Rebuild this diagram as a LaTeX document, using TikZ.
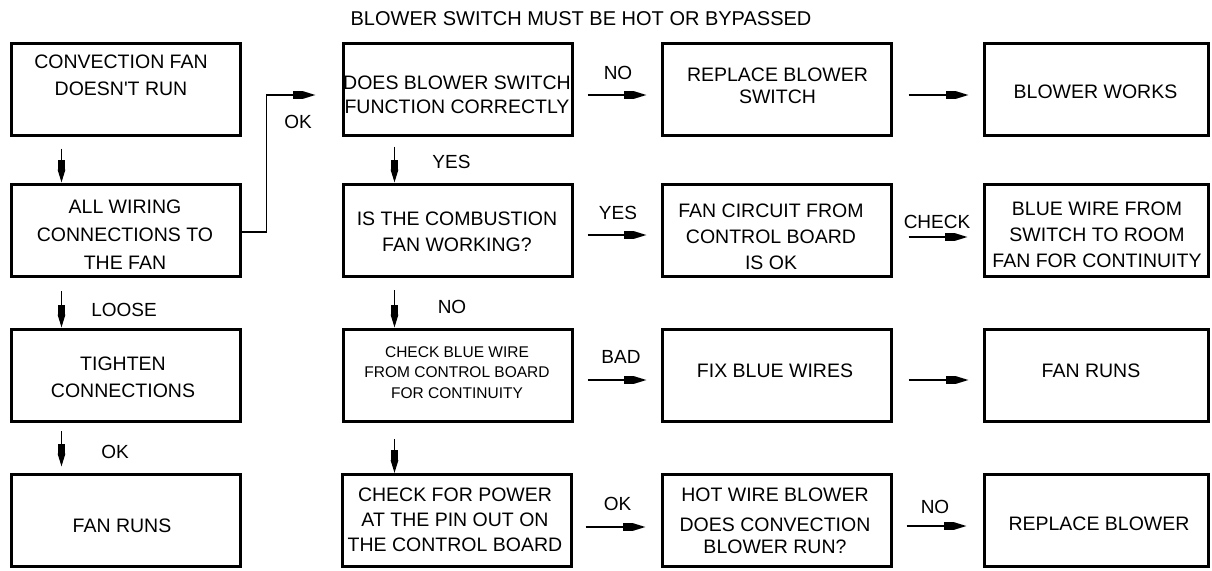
\documentclass[tikz,border=0pt]{standalone}
\usepackage{fontspec}
\setmainfont{Liberation Sans}[Ligatures=TeXOff]
\usetikzlibrary{arrows.meta,calc}
\tikzset{
  box/.style={draw, line width=3pt, minimum width=229pt, minimum height=92pt, inner sep=0pt},
  boxw/.style={box, minimum width=224pt},
  txt/.style={font=\fontsize{19.5}{26}\selectfont, align=center, inner sep=0pt},
  small/.style={font=\fontsize{15.5}{20.5}\selectfont, align=center, inner sep=0pt},
  lab/.style={font=\fontsize{19}{20}\selectfont, inner sep=0pt},
  arr/.style={line width=1.5pt, -{Rectangle[length=10pt,width=7.5pt,sep=0pt]Triangle[length=13pt,width=7.5pt]}},
}
\begin{document}
\begin{tikzpicture}[x=1pt,y=-1pt]
\useasboundingbox (0,0) rectangle (1212,570);
% title
\node[font=\fontsize{20}{22}\selectfont, inner sep=0pt] (title) at (581,19) {BLOWER SWITCH MUST BE HOT OR BYPASSED};
% boxes
\node[box] (a1) at (126,89.5) {};
\node[box] (a2) at (126,230) {};
\node[box] (a3) at (126,375) {};
\node[box] (a4) at (126,520.5) {};
\node[box] (b1) at (458,89.5) {};
\node[box] (b2) at (458,230) {};
\node[box] (b3) at (458,375) {};
\node[box] (b4) at (457,520.5) {};
\node[box] (c1) at (777,89.5) {};
\node[box] (c2) at (777,230) {};
\node[box] (c3) at (777,375) {};
\node[box] (c4) at (777,520.5) {};
\node[boxw] (d1) at (1096.5,89.5) {};
\node[boxw] (d2) at (1096.5,230) {};
\node[boxw] (d3) at (1096.5,375) {};
\node[boxw] (d4) at (1096.5,520.5) {};
% texts
\node[txt, font=\fontsize{19.5}{27}\selectfont] (ta1) at (121,75.5) {CONVECTION FAN\\DOESN'T RUN};
\node[txt, font=\fontsize{19.5}{28}\selectfont] (ta2) at (125,235) {ALL WIRING\\CONNECTIONS TO\\THE FAN};
\node[txt, font=\fontsize{19.5}{27}\selectfont] (ta3) at (123,377.5) {TIGHTEN\\CONNECTIONS};
\node[txt] (ta4) at (122,526) {FAN RUNS};
\node[txt, font=\fontsize{19.5}{24}\selectfont] (tb1) at (457,95) {DOES BLOWER SWITCH\\FUNCTION CORRECTLY};
\node[txt] (tb2) at (457,232) {IS THE COMBUSTION\\FAN WORKING?};
\node[small] (tb3) at (457,372.5) {CHECK BLUE WIRE\\FROM CONTROL BOARD\\FOR CONTINUITY};
\node[txt, font=\fontsize{19.5}{25}\selectfont] (tb4) at (455,520) {CHECK FOR POWER\\AT THE PIN OUT ON\\THE CONTROL BOARD};
\node[txt, font=\fontsize{19.5}{22}\selectfont] (tc1) at (777.5,86) {REPLACE BLOWER\\SWITCH};
\node[txt] (tc2) at (771,237) {FAN CIRCUIT FROM\\CONTROL BOARD\\IS OK};
\node[txt] (tc3) at (775,371) {FIX BLUE WIRES};
\node[txt, font=\fontsize{19.5}{22}\selectfont] (tc4) at (775,521) {HOT WIRE BLOWER\\[8pt]DOES CONVECTION\\BLOWER RUN?};
\node[txt] (td1) at (1095.5,92) {BLOWER WORKS};
\node[txt] (td2) at (1097,235) {BLUE WIRE FROM\\SWITCH TO ROOM\\FAN FOR CONTINUITY};
\node[txt] (td3) at (1091,371) {FAN RUNS};
\node[txt] (td4) at (1099,524) {REPLACE BLOWER};
% vertical arrows
\draw[arr, shorten <=11.5pt] ([xshift=51.5pt]a1.south west) -- ([xshift=51.5pt]a2.north west);
\draw[arr, shorten <=13.5pt] ([xshift=51.5pt]a2.south west) -- ([xshift=51.5pt]a3.north west);
\draw[arr, shorten <=8.5pt, shorten >=6.5pt] ([xshift=51.5pt]a3.south west) -- ([xshift=51.5pt]a4.north west);
\draw[arr, shorten <=9.5pt] ([xshift=52.5pt]b1.south west) -- ([xshift=52.5pt]b2.north west);
\draw[arr, shorten <=12.5pt] ([xshift=52.5pt]b2.south west) -- ([xshift=52.5pt]b3.north west);
\draw[arr, shorten <=16.5pt] ([xshift=52.5pt]b3.south west) -- ([xshift=53.5pt]b4.north west);
% horizontal arrows
\draw[arr, shorten <=13.5pt, shorten >=14.5pt] ([yshift=-5.5pt]b1.east) -- ([yshift=-5.5pt]c1.west);
\draw[arr, shorten <=15.5pt, shorten >=14.5pt] ([yshift=-5.5pt]c1.east) -- ([yshift=-5.5pt]d1.west);
\draw[arr, shorten <=13.5pt, shorten >=14.5pt] ([yshift=-5pt]b2.east) -- ([yshift=-5pt]c2.west);
\draw[arr, shorten <=15.5pt, shorten >=15.5pt] ([yshift=-7pt]c2.east) -- ([yshift=-7pt]d2.west);
\draw[arr, shorten <=13.5pt, shorten >=14.5pt] ([yshift=-5pt]b3.east) -- ([yshift=-5pt]c3.west);
\draw[arr, shorten <=15.5pt, shorten >=14.5pt] ([yshift=-5pt]c3.east) -- ([yshift=-5pt]d3.west);
\draw[arr, shorten <=12.5pt, shorten >=15.5pt] ([yshift=-6.5pt]b4.east) -- ([yshift=-6.5pt]c4.west);
\draw[arr, shorten <=13.5pt, shorten >=16.5pt] ([yshift=-5.5pt]c4.east) -- ([yshift=-5.5pt]d4.west);
% bent connector
\draw[arr, shorten >=26.5pt] ([yshift=-2pt]a2.east) -- ++(24.5,0) |- ([yshift=-5.5pt]b1.west);
% labels
\node[lab] (l1) at (618,73) {NO};
\node[lab] (l2) at (618,213) {YES};
\node[lab] (l3) at (621,357) {BAD};
\node[lab] (l4) at (617.5,504) {OK};
\node[lab] (l5) at (935,507) {NO};
\node[lab] (l6) at (937,222) {CHECK};
\node[lab] (l7) at (451.5,162) {YES};
\node[lab] (l8) at (452,307) {NO};
\node[lab] (l9) at (124,310) {LOOSE};
\node[lab] (l10) at (115,452) {OK};
\node[lab] (l11) at (298,122) {OK};
\end{tikzpicture}
\end{document}
